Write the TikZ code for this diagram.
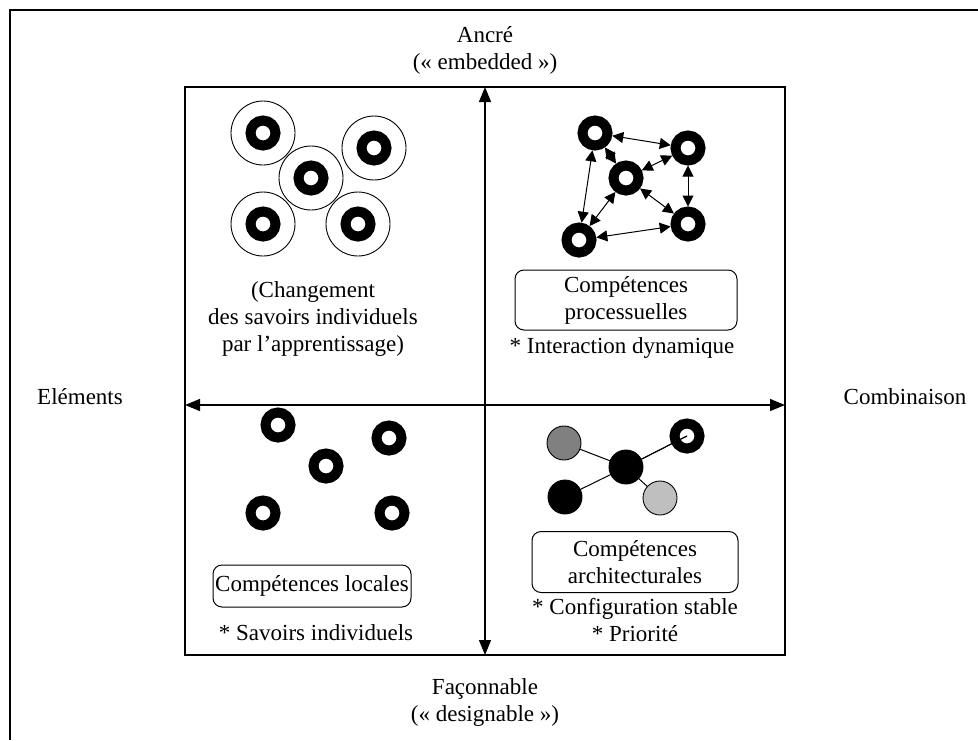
\documentclass[tikz,border=0pt]{standalone}
\usepackage{fontspec}
\setmainfont{Liberation Serif}
\usetikzlibrary{arrows.meta,positioning}

\begin{document}
\begin{tikzpicture}[x=1pt, y=-1pt, line width=1pt,
    every node/.style={font=\fontsize{23}{27}\selectfont, align=center, inner sep=0pt},
    ring/.style={circle, draw, line width=10pt, minimum size=25pt},
    halo/.style={circle, draw, line width=0.9pt, minimum size=64pt},
    disc/.style={circle, draw, line width=0.9pt, minimum size=34pt},
    capbox/.style={draw, rounded corners=9pt, line width=1pt},
    link/.style={{Triangle[length=11pt,width=11pt]}-{Triangle[length=11pt,width=11pt]}, line width=1pt},
    axis/.style={{Triangle[length=15pt,width=12pt]}-{Triangle[length=15pt,width=12pt]}, line width=1.3pt}]
  \useasboundingbox (0,0) rectangle (978,740);
  \draw[line width=2.2pt] (10,740) -- (10,10) -- (978,10);
  \draw[line width=1.3pt] (185,87) rectangle (785,655);

  \coordinate (north) at (485,87);
  \coordinate (south) at (485,655);
  \coordinate (west) at (185,405);
  \coordinate (east) at (785,405);
  \draw[axis] (south) -- (north);
  \draw[axis] (west) -- (east);

  \node (ancre) at (485,50) {Ancré\\(« embedded »)};
  \node (faconnable) at (485,702) {Façonnable\\(« designable »)};
  \node (elements) at (80,397) {Eléments};
  \node (combinaison) at (905,397) {Combinaison};

  % haut gauche
  \foreach \name/\pos in {h1/{(263,133)}, h2/{(374,148)}, h3/{(311,178)}, h4/{(263,224)}, h5/{(358,224)}} {
    \node[halo] (\name) at \pos {};
    \node[ring] at (\name.center) {};
  }
  \node (changement) at (313,319) {(Changement\\des savoirs individuels\\par l’apprentissage)};

  % haut droite
  \node[ring] (pa) at (595,133) {};
  \node[ring] (pb) at (688,148) {};
  \node[ring] (pc) at (626,178) {};
  \node[ring] (pd) at (688,224) {};
  \node[ring] (pe) at (579,240) {};
  \draw[link] (pa) -- (pb);
  \draw[link] (pa) -- (pc);
  \draw[link] (pb) -- (pc);
  \draw[link] (pb) -- (pd);
  \draw[link] (pa) -- (pe);
  \draw[link] (pe) -- (pc);
  \draw[link] (pe) -- (pd);
  \draw[link] (pd) -- (pc);
  \node[capbox, minimum width=222pt, minimum height=60pt] (processuelles) at (626,300) {Compétences\\processuelles};
  \node (interaction) at (622,348) {* Interaction dynamique};

  % bas gauche
  \node[ring] (l1) at (278,425) {};
  \node[ring] (l2) at (389,438) {};
  \node[ring] (l3) at (326,466) {};
  \node[ring] (l4) at (263,513) {};
  \node[ring] (l5) at (392,513) {};
  \node[capbox, minimum width=198pt, minimum height=42pt] (locales) at (312,586) {Compétences locales};
  \node (savoirs) at (316,633) {* Savoirs individuels};

  % bas droite
  \coordinate (ac) at (626,467);
  \coordinate (ag) at (564,443);
  \coordinate (ar) at (687,436);
  \coordinate (an) at (565,497);
  \coordinate (al) at (660,498);
  \draw (ac) -- (ag) (ac) -- (ar) (ac) -- (an) (ac) -- (al);
  \node[disc, fill=black] (centre) at (ac) {};
  \node[disc, fill=gray] (gris) at (ag) {};
  \node[disc, fill=black] (noir) at (an) {};
  \node[disc, fill=black!25] (clair) at (al) {};
  \node[ring] (anneau) at (ar) {};
  \draw (centre) -- (anneau.center);
  \node[capbox, minimum width=206pt, minimum height=61pt] (architecturales) at (635,562) {Compétences\\architecturales};
  \node (configuration) at (635,620) {* Configuration stable\\* Priorité};
\end{tikzpicture}
\end{document}
